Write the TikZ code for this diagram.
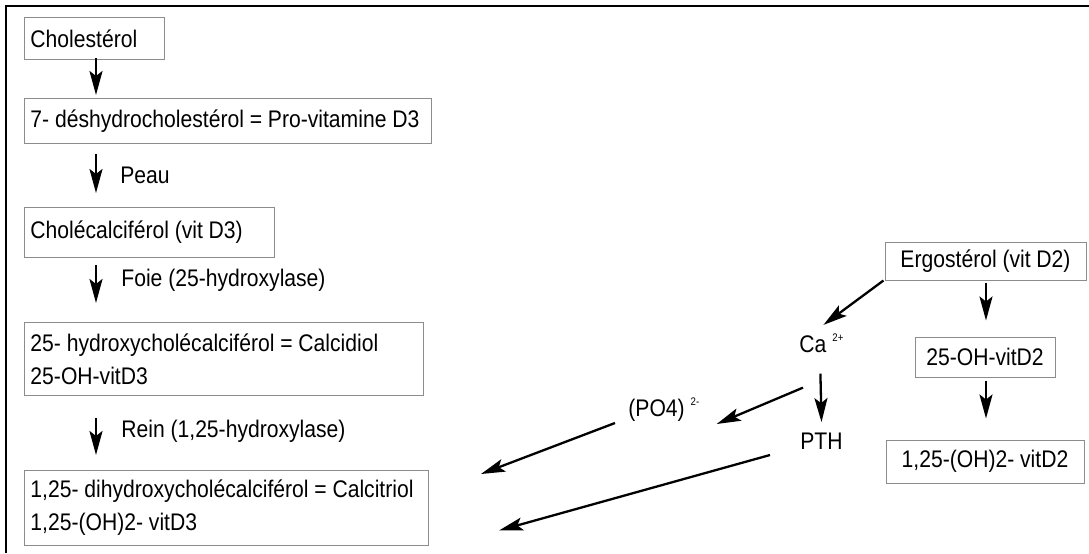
\documentclass[tikz,border=0pt]{standalone}
\usepackage{fontspec}
\setmainfont{Liberation Sans}[FakeStretch=0.88]
\usetikzlibrary{arrows.meta,calc}
\definecolor{boxgray}{HTML}{8C8C8C}

\begin{document}
\begin{tikzpicture}[x=0.5pt,y=-0.5pt,
  font=\fontsize{12}{16.5}\selectfont,
  % keep the condensed font's own narrow word space inside aligned nodes
  execute at begin node={\spaceskip=2.9pt\relax\xspaceskip=2.9pt\relax},
  box/.style={draw=boxgray, line width=0.5pt, rectangle},
  lbox/.style={box, anchor=north west, align=left, inner xsep=3pt, inner ysep=0pt},
  cbox/.style={box, align=center, inner sep=0pt},
  lab/.style={anchor=base west, inner sep=0pt},
  arr/.style={-{Stealth[length=12pt,width=6.5pt,inset=2.5pt]}, line width=1.15pt},
  frameline/.style={line width=1.25pt}]
\useasboundingbox (0,0) rectangle (1089,553);

% frame (left and top edges only)
\draw[frameline] (6,553) -- (6,6) -- (1089,6);

% vitamin D3 pathway
\node[lbox, text width=64pt, minimum height=21pt] (chol) at (24,17) {Cholestérol};
\node[lbox, text width=197.5pt, minimum height=22.5pt] (des) at (24,98) {7- déshydrocholestérol = Pro-vitamine D3};
\node[lbox, text width=119pt, minimum height=25pt] (calc) at (24,207) {Cholécalciférol (vit D3)};
\node[lbox, text width=193.5pt, minimum height=36.5pt] (hyd) at (24,322) {25- hydroxycholécalciférol = Calcidiol\\25-OH-vitD3};
\node[lbox, text width=196pt, minimum height=37.5pt] (triol) at (24,470) {1,25- dihydroxycholécalciférol = Calcitriol\\1,25-(OH)2- vitD3};

\node[lab] (peau) at (120,183) {Peau};
\node[lab] (foie) at (121,286) {Foie (25-hydroxylase)};
\node[lab] (rein) at (121,437) {Rein (1,25-hydroxylase)};

\draw[arr] ($(chol.south west)+(72,-2)$) -- ($(des.north west)+(72,-3)$);
\draw[arr] ($(des.south west)+(72,10)$) -- ($(calc.north west)+(72,-14)$);
\draw[arr] ($(calc.south west)+(72,7)$) -- ($(hyd.north west)+(72,-19)$);
\draw[arr] ($(hyd.south west)+(72,22)$) -- ($(triol.north west)+(72,-15)$);

% vitamin D2 pathway
\node[cbox, minimum width=100.5pt, minimum height=19pt] (ergo) at (985.5,261) {Ergostérol (vit D2)};
\node[cbox, minimum width=70pt, minimum height=20pt] (oh) at (985,357) {25-OH-vitD2};
\node[cbox, minimum width=99pt, minimum height=21.5pt] (oh2) at (985,461.5) {1,25-(OH)2- vitD2};

\draw[arr] ($(ergo.south)+(0.5,2)$) -- ($(oh.north)+(1,-16)$);
\draw[arr] ($(oh.south)+(1,3)$) -- ($(oh2.north)+(1,-21)$);

% ions and hormone
\node[lab] (ca) at (799,352) {Ca\hspace{3pt}\raisebox{5.5pt}{\fontsize{5.5}{6}\selectfont 2+}};
\node[lab] (pth) at (800,449) {PTH};
\node[lab] (po4) at (628,416) {(PO4)\hspace{3pt}\raisebox{5.5pt}{\fontsize{5.5}{6}\selectfont 2-}};

\draw[arr] ($(ergo.south west)+(-1,0)$) -- ($(ca.north)+(2,-8)$);
\draw[arr] ($(ca.south)+(-1,21)$) -- ($(pth.north)+(0,-10)$);
\draw[arr] ($(ca.south west)+(4,35)$) -- ($(po4.base east)+(17,8)$);
\draw[arr] ($(po4.base west)+(-13,7)$) -- ($(triol.north east)+(52,4)$);
\draw[arr] ($(pth.base west)+(-30,6)$) -- ($(triol.east)+(70,22.5)$);
\end{tikzpicture}
\end{document}
